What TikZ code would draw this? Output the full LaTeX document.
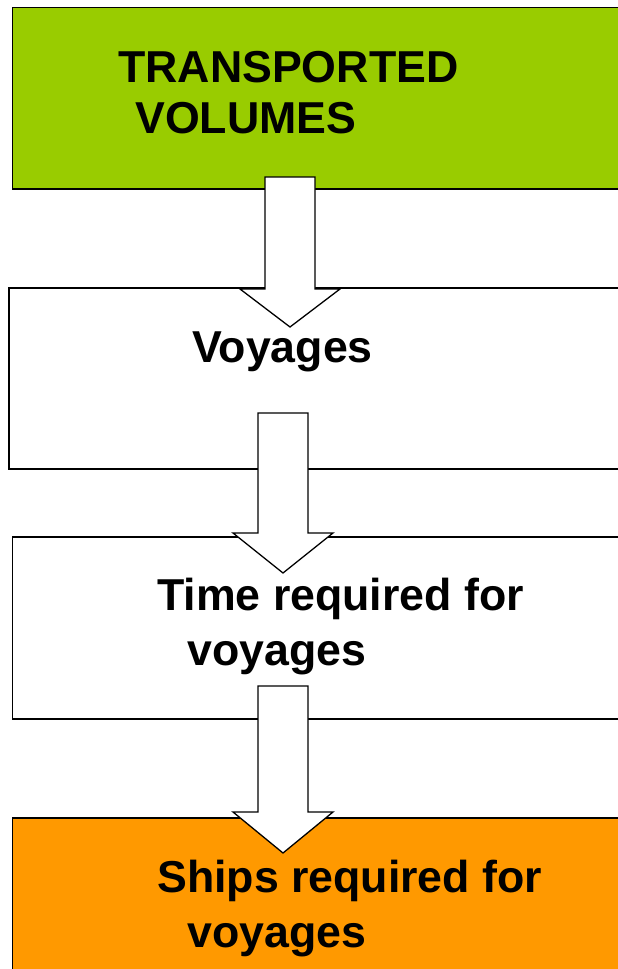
\documentclass[tikz,border=0pt]{standalone}
\usepackage{fontspec}
\setmainfont{Liberation Sans}
\definecolor{boxgreen}{HTML}{99CC00}
\definecolor{boxorange}{HTML}{FF9900}
\tikzset{
  stagebox/.style={draw=black, line width=1.5pt, rectangle, inner sep=0pt,
    anchor=north west, minimum width=640pt},
  blockarrow/.style={draw=black, fill=white, line width=1.3pt, line join=miter},
  lbl/.style={inner sep=0pt, anchor=base west, font=\fontsize{44.7}{51}\selectfont\bfseries},
}
\begin{document}
\begin{tikzpicture}[x=1pt, y=-1pt]
  \clip (0,0) rectangle (618,969);
  \fill[white] (0,0) rectangle (618,969);

  % stage boxes (they run off the right and bottom edges)
  \node[stagebox, fill=boxgreen, minimum height=181.5pt] (vol) at (11.5,6.5) {};
  \node[stagebox, fill=white, minimum height=181pt] (voy) at (8,287) {};
  \node[stagebox, fill=white, minimum height=182pt] (time) at (11.5,536) {};
  \node[stagebox, fill=boxorange, minimum height=200pt] (ships) at (11.5,817) {};

  % block arrows between the stages
  \draw[blockarrow] (265,177) -- (315,177) -- (315,289) -- (340,289) -- (290,327)
    -- (240,289) -- (265,289) -- cycle;
  \draw[blockarrow] (258,413) -- (308,413) -- (308,533) -- (333,533) -- (283,573)
    -- (233,533) -- (258,533) -- cycle;
  \draw[blockarrow] (258,686) -- (308,686) -- (308,812) -- (333,812) -- (283,853)
    -- (233,812) -- (258,812) -- cycle;

  % labels
  \node[lbl] (volA) at (118,82) {TRANSPORTED};
  \node[lbl] (volB) at (135,133) {VOLUMES};
  \node[lbl] (voyA) at (192,362) {Voyages};
  \node[lbl] (timeA) at (157,610) {Time required for};
  \node[lbl] (timeB) at (187,665) {voyages};
  \node[lbl] (shipsA) at (157,892) {Ships required for};
  \node[lbl] (shipsB) at (187,947) {voyages};
\end{tikzpicture}
\end{document}
